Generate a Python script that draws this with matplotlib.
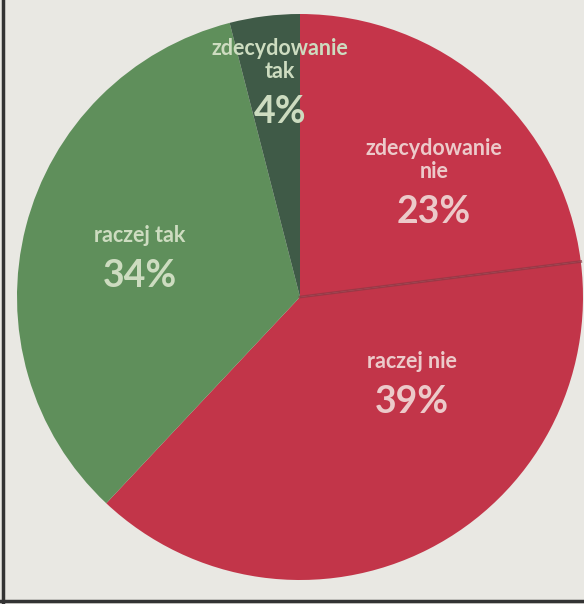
import numpy as np
import matplotlib.pyplot as plt
from matplotlib.lines import Line2D

# dane
labels = ['zdecydowanie\nnie', 'raczej nie', 'raczej tak', 'zdecydowanie\ntak']
values = [23, 39, 34, 4]
colors = ['#c5354a', '#c23549', '#5f8f5b', '#3f5a47']
text_colors = ['#eccaca', '#eccaca', '#cddcc0', '#cddcc0']
# pozycje etykiet (piksele obrazka)
label_px = [(434, 160), (412, 362), (140, 236), (280, 60)]

W, H = 584, 604
cx, cy, R = 300, 297, 283

fig = plt.figure(figsize=(W / 100, H / 100), dpi=100)
fig.patch.set_facecolor('#e9e8e3')
ax = fig.add_axes([0, 0, 1, 1])

wedges, _ = ax.pie(values, colors=colors, startangle=90, counterclock=False,
                   radius=1.0, wedgeprops=dict(linewidth=0))
ax.set_aspect('auto')
ax.set_xlim(-cx / R, (W - cx) / R)
ax.set_ylim(-(H - cy) / R, cy / R)
ax.axis('off')

# ciemna linia miedzy czerwonymi
t = np.deg2rad(wedges[0].theta1)
ax.plot([0, np.cos(t)], [0, np.sin(t)], color='#8a3a45', lw=2, alpha=0.7)

fam = ['Lato', 'DejaVu Sans']
for lab, val, (px, py), tc in zip(labels, values, label_px, text_colors):
    x = (px - cx) / R
    y = (cy - py) / R
    ax.text(x, y, lab, ha='center', va='center', color=tc, fontsize=15.5,
            family=fam, fontweight='bold', linespacing=1.1)
    nlines = lab.count('\n') + 1
    yp = y - (28 + 12 * nlines) / R
    ax.text(x, yp, f'{val}%', ha='center', va='center', color=tc, fontsize=27,
            family=fam, fontweight='bold')

# ramka
fig.add_artist(Line2D([3 / W, 3 / W], [0, 1], color='#333333', lw=2.5, transform=fig.transFigure))
fig.add_artist(Line2D([0, 1], [3 / H, 3 / H], color='#333333', lw=2.5, transform=fig.transFigure))

fig.savefig('out.png', dpi=100, facecolor=fig.get_facecolor())
